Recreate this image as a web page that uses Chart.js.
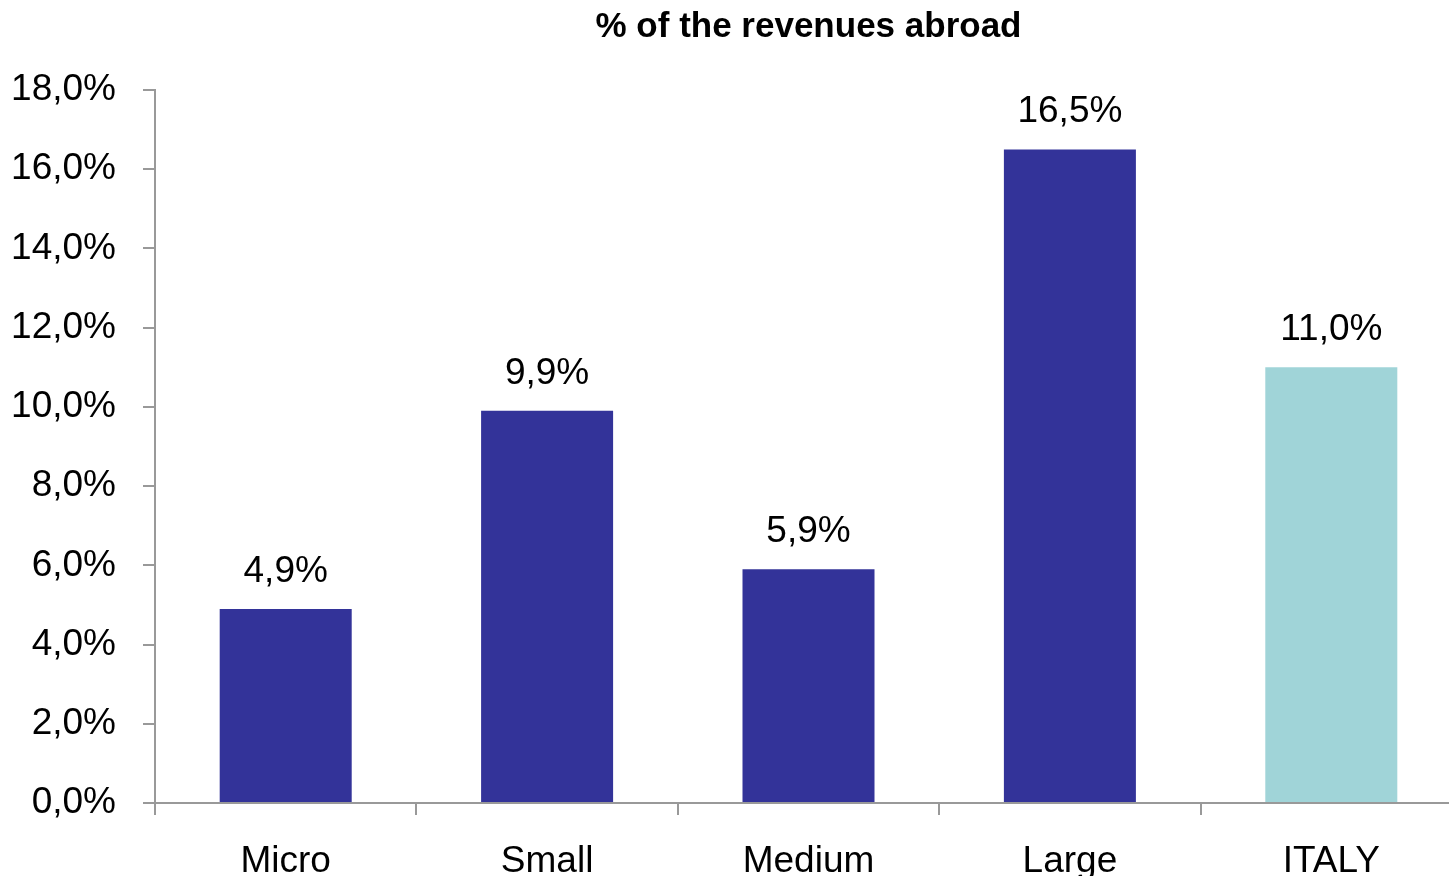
<!DOCTYPE html>
<html>
<head>
<meta charset="utf-8">
<script src="https://cdn.jsdelivr.net/npm/chart.js@4/dist/chart.umd.min.js"></script>
<style>
  html, body { margin: 0; padding: 0; background: #fff; overflow: hidden; }
  #chart { display: block; }
</style>
</head>
<body>
<canvas id="chart" width="1462" height="876"></canvas>
<script>
const categories = ['Micro', 'Small', 'Medium', 'Large', 'ITALY'];
const shares = [4.9, 9.9, 5.9, 16.5, 11.0];
const barColors = ['#333399', '#333399', '#333399', '#333399', '#A0D4D8'];
const titleText = '% of the revenues abroad';

const FONT = '"Liberation Sans", Arial, sans-serif';

function formatPercent(v) {
  return v.toFixed(1).replace('.', ',') + '%';
}

// values above bars + title centred on the plot area
const labelsPlugin = {
  id: 'labelsPlugin',
  afterDatasetsDraw(chart) {
    const ctx = chart.ctx;
    const meta = chart.getDatasetMeta(0);
    ctx.save();
    ctx.fillStyle = '#000';
    ctx.font = '37px ' + FONT;
    ctx.textAlign = 'center';
    ctx.textBaseline = 'alphabetic';
    meta.data.forEach((bar, i) => {
      ctx.fillText(formatPercent(shares[i]), bar.x, bar.y - 27);
    });
    const area = chart.chartArea;
    ctx.font = 'bold 35px ' + FONT;
    ctx.fillText(titleText, (area.left + area.right) / 2, 37);
    ctx.restore();
  }
};

const ctx = document.getElementById('chart').getContext('2d');
new Chart(ctx, {
  type: 'bar',
  data: {
    labels: categories,
    datasets: [{
      data: shares,
      backgroundColor: barColors,
      categoryPercentage: 1,
      barPercentage: 0.505
    }]
  },
  options: {
    responsive: false,
    animation: false,
    layout: { padding: { top: 90, right: 0, left: 0, bottom: 0 } },
    plugins: {
      legend: { display: false },
      tooltip: { enabled: false },
      title: { display: false }
    },
    scales: {
      x: {
        offset: true,
        grid: {
          display: true,
          drawOnChartArea: false,
          offset: true,
          tickLength: 12,
          color: '#999999',
          lineWidth: 2
        },
        border: { color: '#999999', width: 2 },
        ticks: {
          color: '#000',
          font: { family: FONT, size: 37 },
          padding: 25
        },
        afterFit(scale) { scale.height = 73; }
      },
      y: {
        min: 0,
        max: 18,
        grid: {
          drawOnChartArea: false,
          tickLength: 12,
          color: '#999999',
          lineWidth: 2
        },
        border: { color: '#999999', width: 2 },
        ticks: {
          stepSize: 2,
          color: '#000',
          font: { family: FONT, size: 37 },
          padding: 27,
          callback: v => formatPercent(v)
        },
        afterFit(scale) { scale.width = 155; }
      }
    }
  },
  plugins: [labelsPlugin]
});
</script>
</body>
</html>
